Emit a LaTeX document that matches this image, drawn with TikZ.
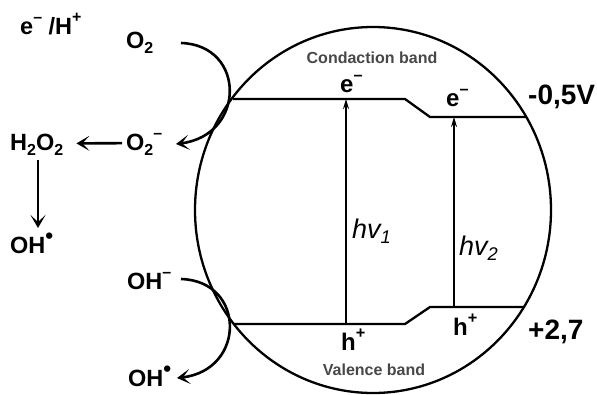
\documentclass[tikz,border=0pt]{standalone}
\usepackage{fontspec}
\usepackage{graphicx}
\setmainfont{Liberation Sans}
\usetikzlibrary{arrows.meta,calc}
\newcommand\lsub[1]{\raisebox{-0.22em}{\scalebox{0.68}{#1}}}
\newcommand\lsup[1]{\raisebox{0.5em}{\scalebox{0.68}{#1}}}
\newcommand\rad{\raisebox{0.42em}{\scalebox{0.95}{•}}}
\begin{document}
\begin{tikzpicture}[x=1pt,y=-1pt,
  lbl/.style={font=\fontsize{23.5}{23.5}\selectfont\bfseries, inner sep=0pt, anchor=base west},
  big/.style={font=\fontsize{28}{28}\selectfont\bfseries, inner sep=0pt, anchor=base west},
  bandname/.style={font=\fontsize{16}{16}\selectfont\bfseries, text=black!72, inner sep=0pt, anchor=base},
  carrier/.style={font=\fontsize{24}{24}\selectfont\bfseries, inner sep=0pt, anchor=base west},
  photon/.style={font=\fontsize{27}{27}\selectfont\itshape, inner sep=0pt, anchor=base west},
  level/.style={line width=2.3pt},
  excite/.style={line width=1.6pt, -{Stealth[length=10pt,width=6pt]}},
  react/.style={line width=2.6pt, -{Stealth[length=13pt,width=15pt,inset=7pt]}},
  curv/.style={line width=2.6pt, -{Stealth[length=13pt,width=15pt,inset=7pt]}}]
\useasboundingbox (0,0) rectangle (597,394);
% semiconductor particle
\draw[line width=2.3pt] (373,210) ellipse [x radius=178pt, y radius=183pt];
% band edges
\coordinate (cbL) at (233,99);
\coordinate (cbK1) at (405,99);
\coordinate (cbK2) at (430,117);
\coordinate (cbR) at (526,117);
\coordinate (vbL) at (234,324);
\coordinate (vbK1) at (405,324);
\coordinate (vbK2) at (430,307);
\coordinate (vbR) at (524,307);
\draw[level] (cbL) -- (cbK1) -- (cbK2) -- (cbR);
\draw[level] (vbL) -- (vbK1) -- (vbK2) -- (vbR);
% excitation
\coordinate (p1b) at (346,324);
\coordinate (p1t) at (346,99);
\coordinate (p2b) at (454,307);
\coordinate (p2t) at (454,117);
\draw[excite] (p1b) -- (p1t);
\draw[excite] (p2b) -- (p2t);
\node[photon] (hv1) at (352,238) {hv\lsub{1}};
\node[photon] (hv2) at (459,255) {hv\lsub{2}};
% carriers
\node[carrier] (e1) at (340,92) {e\lsup{–}};
\node[carrier] (e2) at (446,106) {e\lsup{–}};
\node[carrier] (h1) at (341,350) {h\lsup{+}};
\node[carrier] (h2) at (453,335) {h\lsup{+}};
\node[bandname] (cbn) at (372,63) {Condaction band};
\node[bandname] (vbn) at (374,375) {Valence band};
\node[big] (cbv) at (528,104) {-0,5V};
\node[big] (vbv) at (528,339) {+2,7};
% reactions
\node[lbl] (ehp) at (20,34) {e\lsup{–} /H\lsup{+}};
\node[lbl] (o2) at (126,48) {O\lsub{2}};
\node[lbl] (o2m) at (126,150) {O\lsub{2}\lsup{–}};
\node[lbl] (h2o2) at (10,150) {H\lsub{2}O\lsub{2}};
\node[lbl] (oh1) at (10,253) {OH\rad};
\node[lbl] (ohm) at (127,289) {OH\lsup{–}};
\node[lbl] (oh2) at (128,386) {OH\rad};
\draw[react] ([xshift=-4pt,yshift=1pt]o2m.west) -- ([xshift=13pt,yshift=1pt]h2o2.east);
\coordinate (vtop) at (38,160);
\coordinate (vbot) at (38,228);
\draw[react] (vtop) -- (vbot);
\coordinate (c1a) at (181,43);
\coordinate (c1b) at (176,144);
\coordinate (c2a) at (181,279);
\coordinate (c2b) at (177,378);
\draw[curv] (c1a) .. controls (246,45) and (246,135) .. (c1b);
\draw[curv] (c2a) .. controls (246,281) and (246,370) .. (c2b);
\end{tikzpicture}
\end{document}
